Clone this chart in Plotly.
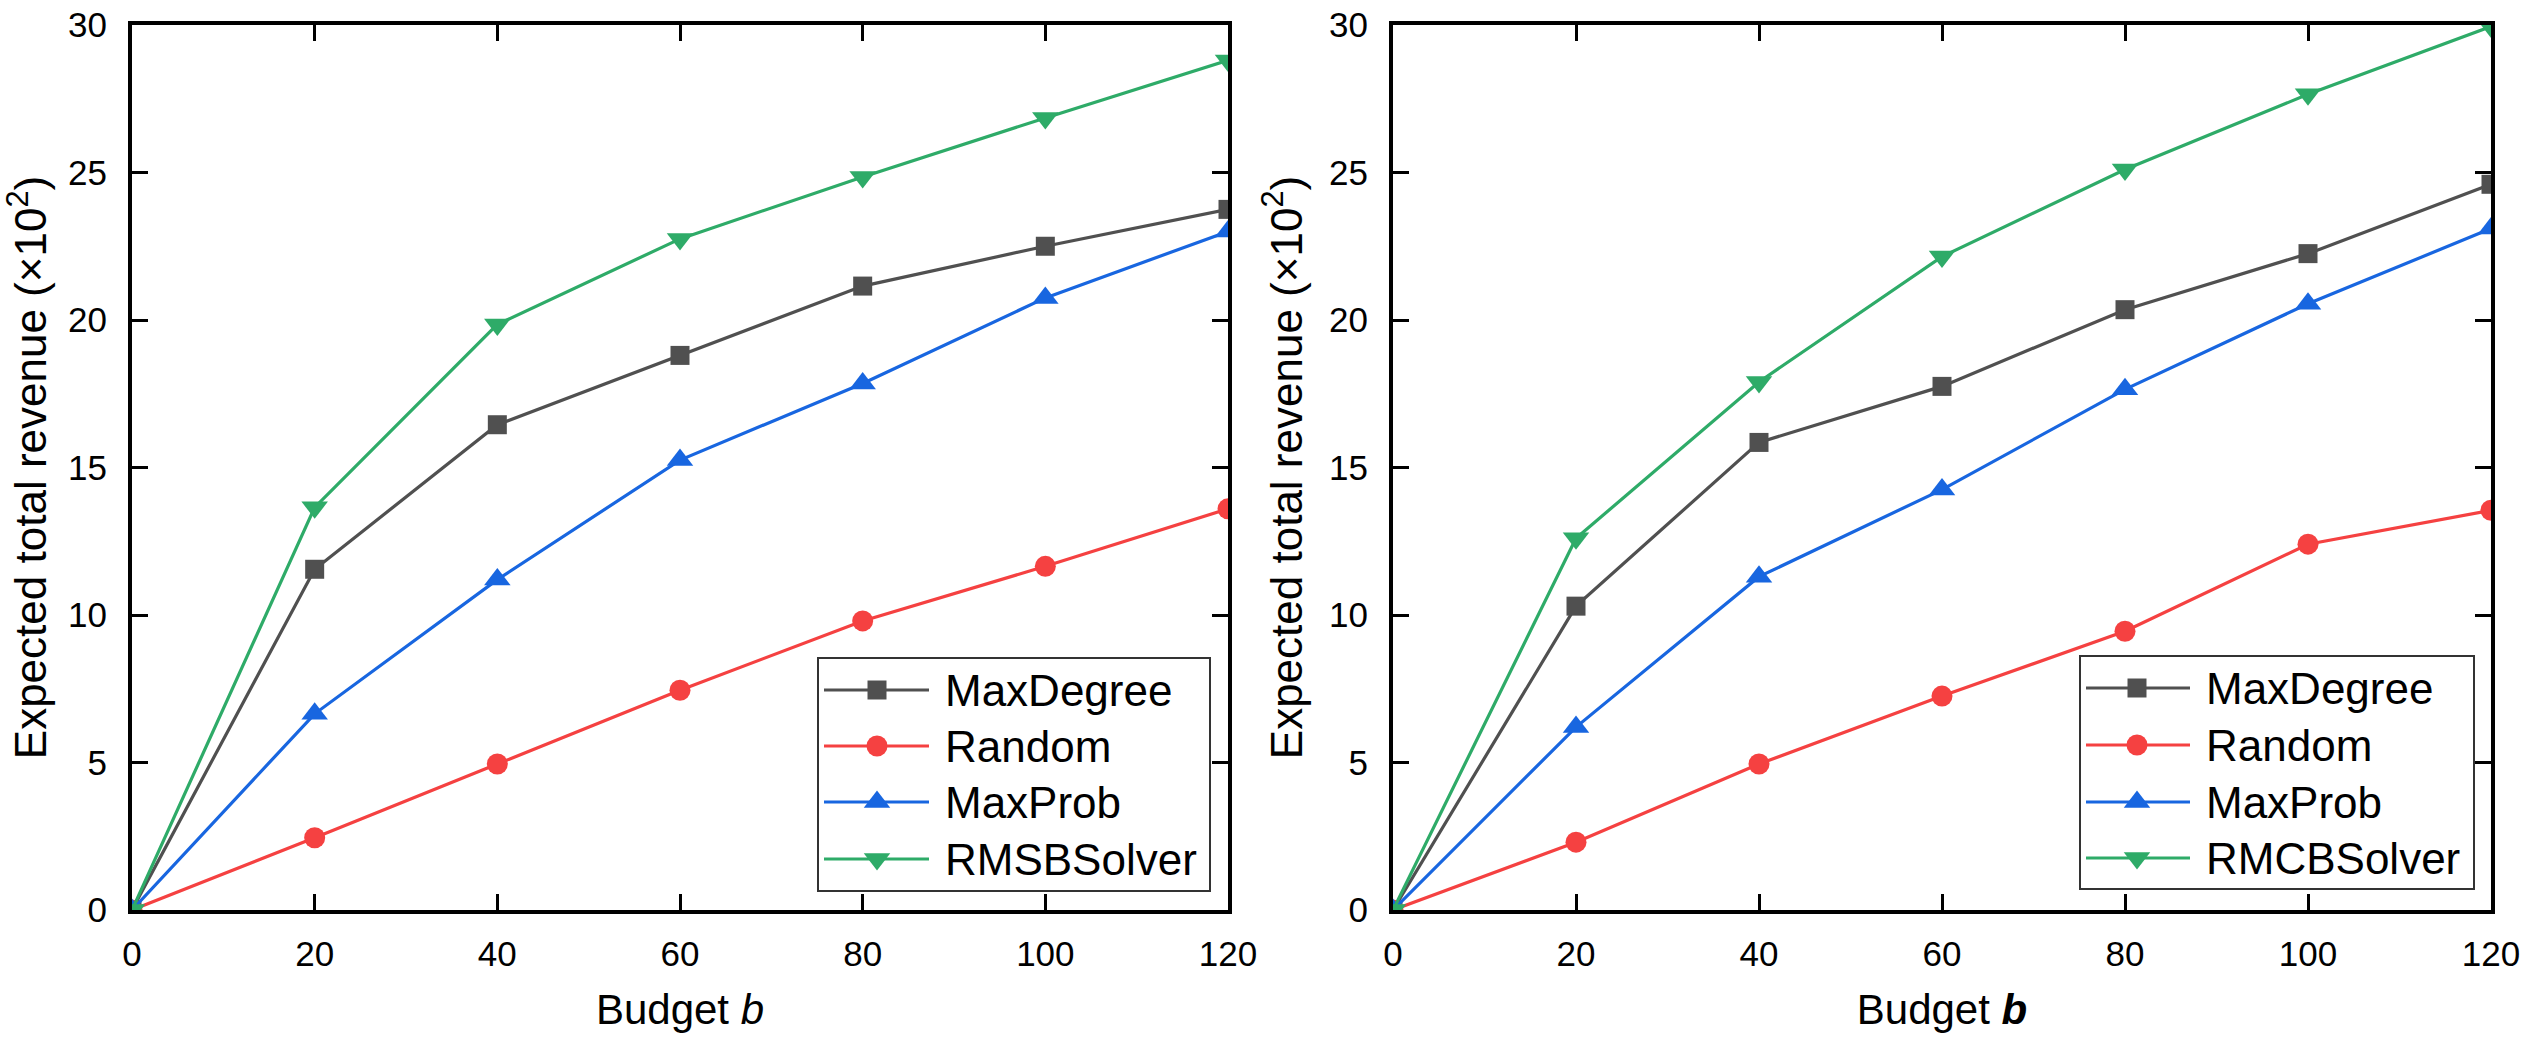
import plotly.graph_objects as go

budget = [0, 20, 40, 60, 80, 100, 120]

# Left panel
left_maxdegree = [0, 11.55, 16.45, 18.8, 21.15, 22.5, 23.75]
left_random = [0, 2.45, 4.95, 7.45, 9.8, 11.65, 13.6]
left_maxprob = [0, 6.65, 11.2, 15.25, 17.85, 20.75, 23.0]
left_solver = [0, 13.65, 19.85, 22.75, 24.85, 26.85, 28.8]

# Right panel
right_maxdegree = [0, 10.3, 15.85, 17.75, 20.35, 22.25, 24.6]
right_random = [0, 2.3, 4.95, 7.25, 9.45, 12.4, 13.55]
right_maxprob = [0, 6.2, 11.3, 14.25, 17.65, 20.55, 23.1]
right_solver = [0, 12.6, 17.9, 22.15, 25.1, 27.65, 29.95]

left_names = ["MaxDegree", "Random", "MaxProb", "RMSBSolver"]
right_names = ["MaxDegree", "Random", "MaxProb", "RMCBSolver"]

x_ticks = [0, 20, 40, 60, 80, 100, 120]
y_ticks = [0, 5, 10, 15, 20, 25, 30]

colors = ["#505050", "#f54141", "#1866e0", "#2eab68"]
symbols = ["square", "circle", "triangle-up", "triangle-down"]
sizes = [19, 21, 23, 23]

FONT = "Liberation Sans, Arial, sans-serif"
W, H = 2525, 1043

fig = go.Figure()

def add_series(names, series, xa, ya):
    for i, (name, ys) in enumerate(zip(names, series)):
        fig.add_trace(go.Scatter(
            x=budget, y=ys, name=name, mode="lines+markers", showlegend=False,
            line=dict(color=colors[i], width=3.2),
            marker=dict(symbol=symbols[i], size=sizes[i], color=colors[i], line=dict(width=0)),
            xaxis=xa, yaxis=ya,
        ))

add_series(left_names, [left_maxdegree, left_random, left_maxprob, left_solver], "x", "y")
add_series(right_names, [right_maxdegree, right_random, right_maxprob, right_solver], "x2", "y2")

# Custom legends drawn on a hidden pixel-space overlay axis (x3/y3)
legend_specs = [
    # names, box (x0, y0, x1, y1), line x0, marker x, line x1, text x, row ys
    (left_names, (818, 658, 1210, 891), 824, 877, 929, 943, [690, 746, 802, 859]),
    (right_names, (2080, 656, 2474, 889), 2086, 2137, 2190, 2204, [688, 745, 802, 858]),
]
shapes = []
annotations = []
for names, box, lx0, mx, lx1, tx, rows in legend_specs:
    shapes.append(dict(type="rect", xref="x3", yref="y3", x0=box[0], y0=box[1], x1=box[2], y1=box[3],
                       line=dict(color="#333333", width=2), fillcolor="rgba(0,0,0,0)", layer="above"))
    for i, name in enumerate(names):
        yy = rows[i]
        fig.add_trace(go.Scatter(
            x=[lx0, lx1], y=[yy, yy], mode="lines", showlegend=False,
            line=dict(color=colors[i], width=3.2),
            xaxis="x3", yaxis="y3", cliponaxis=False, hoverinfo="skip",
        ))
        fig.add_trace(go.Scatter(
            x=[mx], y=[yy], mode="markers", showlegend=False,
            marker=dict(symbol=symbols[i], size=sizes[i], color=colors[i], opacity=1, line=dict(width=0)),
            xaxis="x3", yaxis="y3", cliponaxis=False, hoverinfo="skip",
        ))
        annotations.append(dict(xref="x3", yref="y3", x=tx, y=yy, text=name, showarrow=False,
                                xanchor="left", yanchor="middle",
                                font=dict(family=FONT, size=44, color="black")))

axis_common = dict(
    showline=True, linecolor="black", linewidth=4, mirror="allticks",
    ticks="inside", ticklen=16, tickwidth=3, tickcolor="black",
    showgrid=False, zeroline=False, automargin=False,
    tickfont=dict(family=FONT, size=35, color="black"),
)

ytitle = "Expected total revenue (×10<sup>2</sup>)"

fig.update_layout(
    width=W, height=H,
    margin=dict(l=0, r=0, t=0, b=0),
    paper_bgcolor="white", plot_bgcolor="rgba(0,0,0,0)",
    font=dict(family=FONT, color="black"),
    showlegend=False,
    xaxis=dict(domain=[132 / W, 1228 / W], range=[0, 120], tickvals=x_ticks,
               title=dict(text="Budget <i>b</i>", font=dict(family=FONT, size=42), standoff=24),
               ticklabelstandoff=10, anchor="y", **axis_common),
    yaxis=dict(domain=[(H - 910) / H, (H - 25) / H], range=[0, 30], tickvals=y_ticks,
               title=dict(text=ytitle, font=dict(family=FONT, size=44), standoff=14),
               ticklabelstandoff=14, anchor="x", **axis_common),
    xaxis2=dict(domain=[1393 / W, 2491 / W], range=[0, 120], tickvals=x_ticks,
                title=dict(text="Budget <b><i>b</i></b>", font=dict(family=FONT, size=42), standoff=24),
                ticklabelstandoff=10, anchor="y2", **axis_common),
    yaxis2=dict(domain=[(H - 910) / H, (H - 25) / H], range=[0, 30], tickvals=y_ticks,
                title=dict(text=ytitle, font=dict(family=FONT, size=44), standoff=14),
                ticklabelstandoff=14, anchor="x2", **axis_common),
    xaxis3=dict(domain=[0, 1], range=[0, W], visible=False, fixedrange=True, anchor="y3"),
    yaxis3=dict(domain=[0, 1], range=[H, 0], visible=False, fixedrange=True, anchor="x3"),
    shapes=shapes,
    annotations=annotations,
)

fig.write_html("out.html", config={"displayModeBar": False},
               post_script="document.body.style.margin='0';document.body.style.overflow='hidden';")
